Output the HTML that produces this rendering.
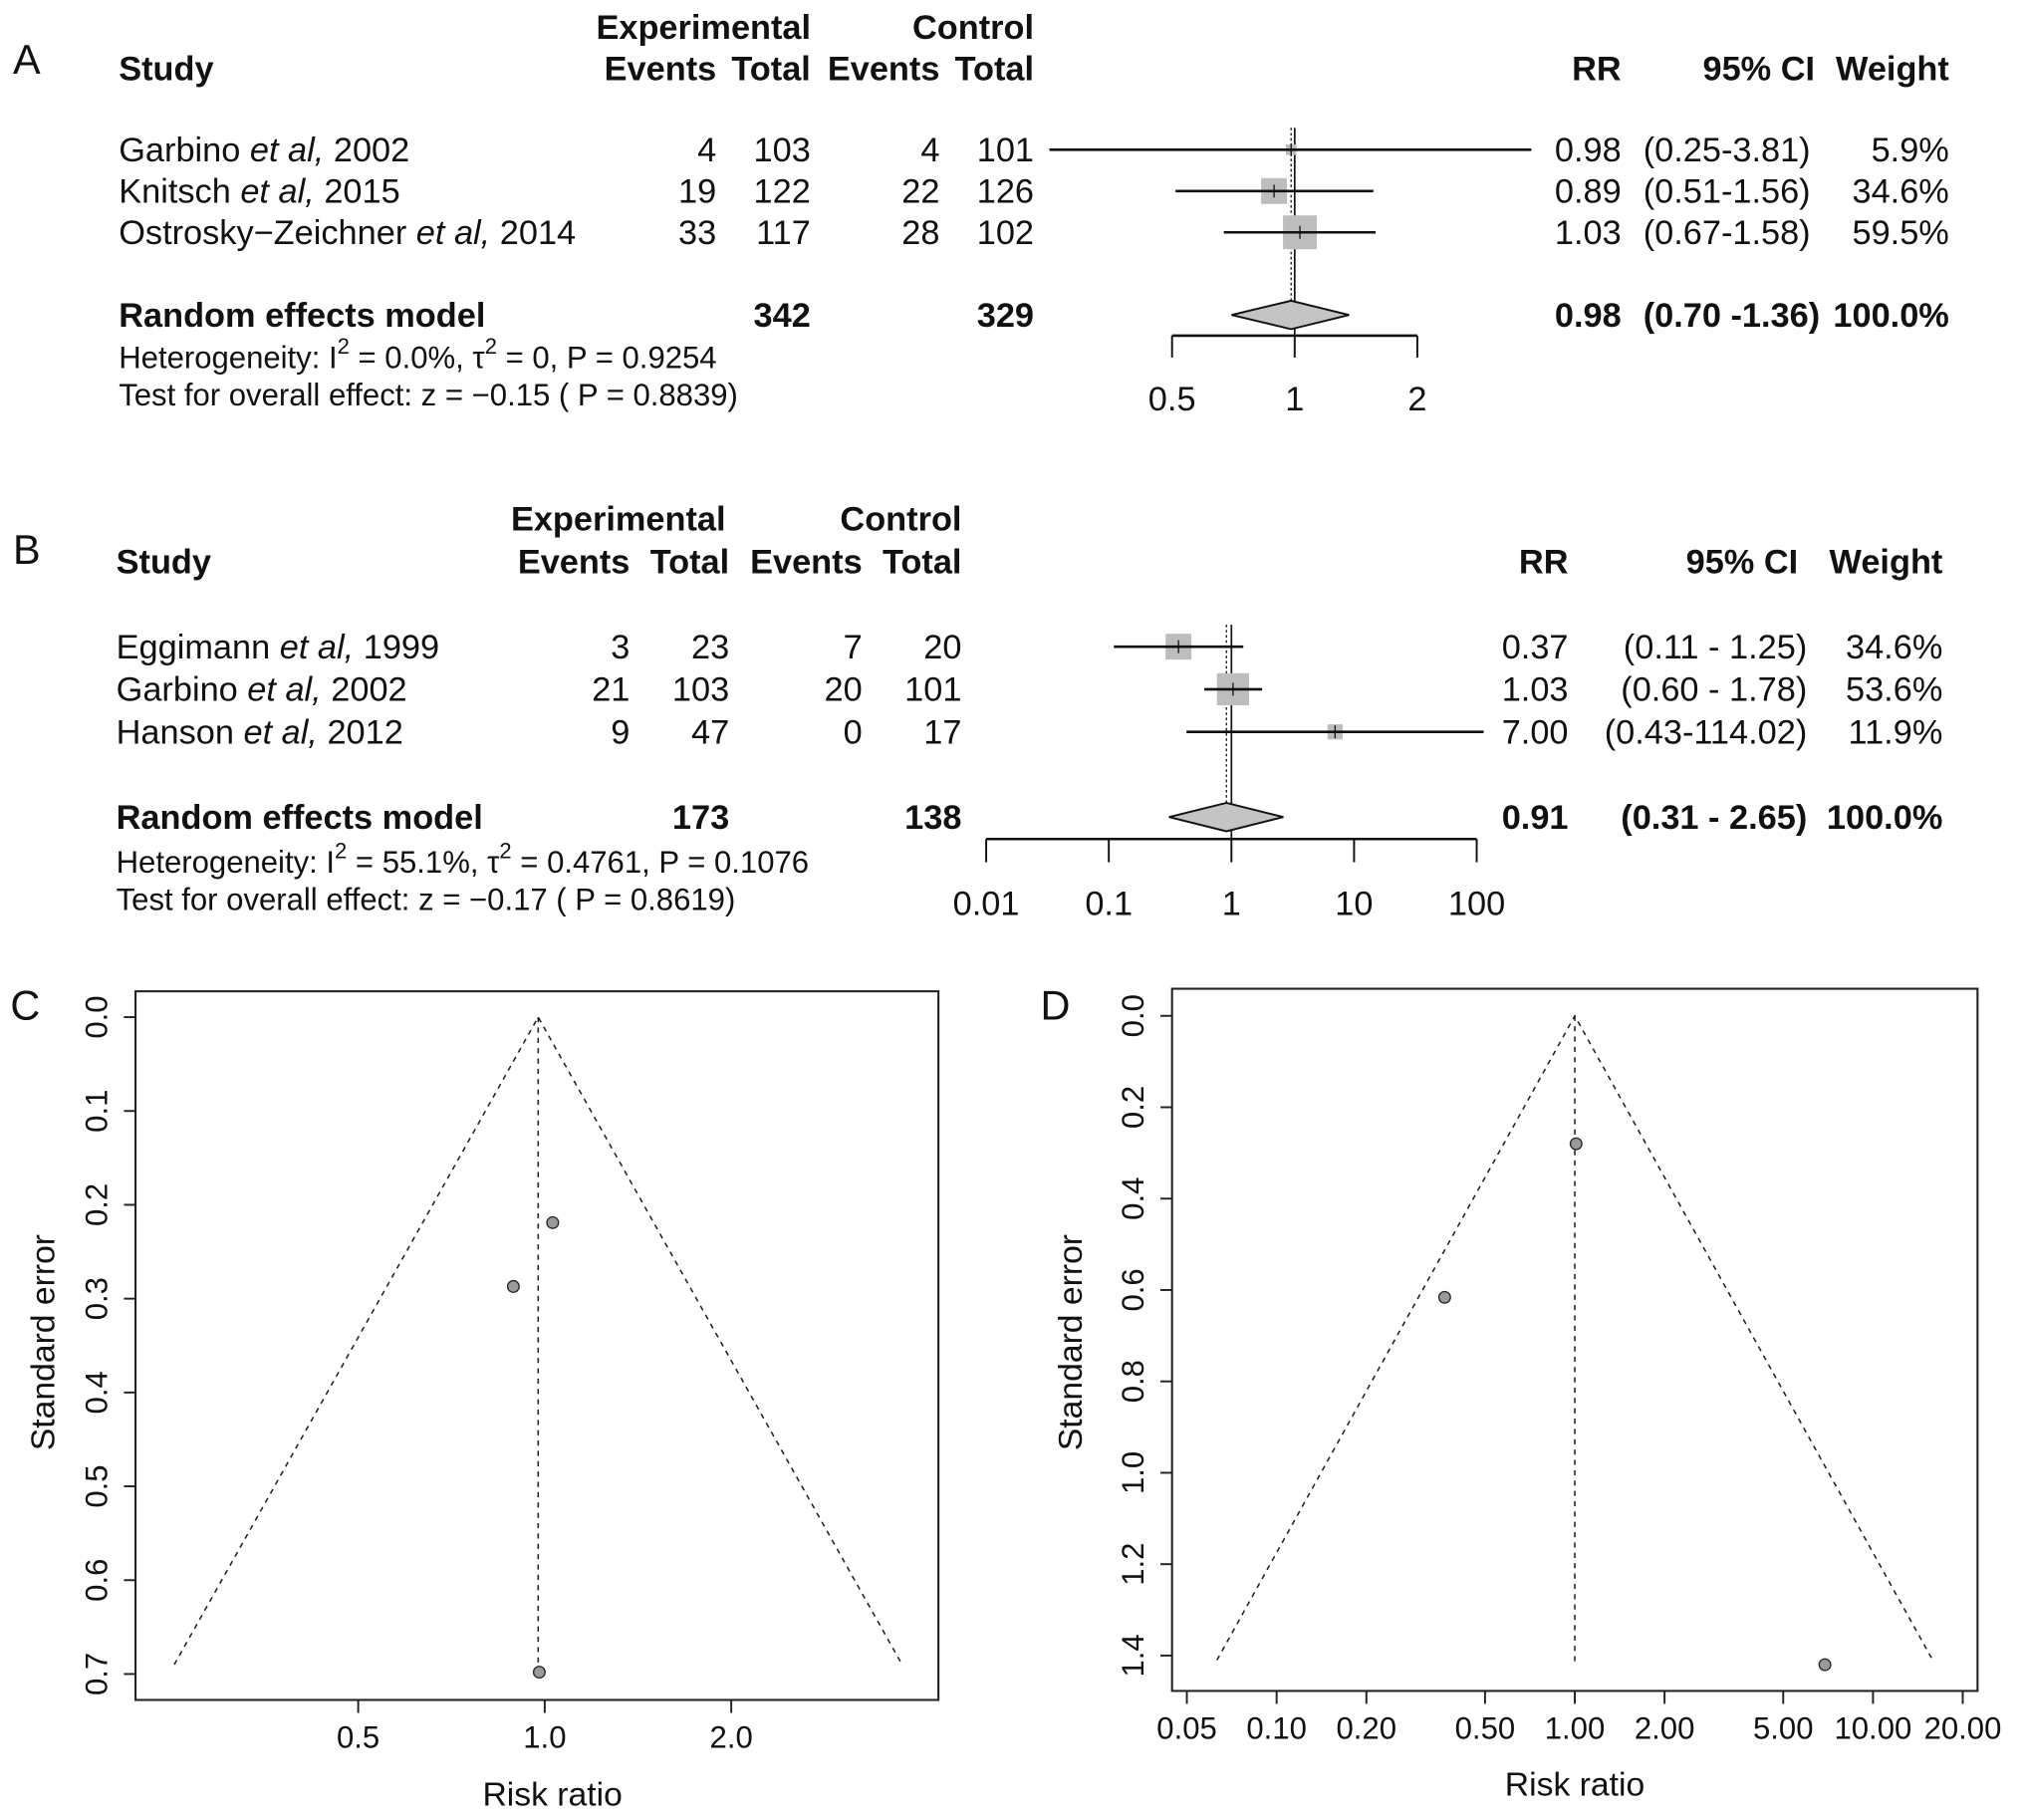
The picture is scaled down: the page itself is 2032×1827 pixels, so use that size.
<!DOCTYPE html>
<html><head><meta charset="utf-8"><style>
html,body{margin:0;padding:0;background:#fff}
svg{display:block}
text{font-family:"Liberation Sans",Arial,sans-serif;fill:#111}
</style></head><body>
<svg id="fig" width="2032" height="1827" viewBox="0 0 1568 1410" preserveAspectRatio="none" xmlns="http://www.w3.org/2000/svg">
<g id="root"></g>
</svg>
<script>
// ---------- Panel A data ----------
const studiesA = ["Garbino", "Knitsch", "Ostrosky\u2212Zeichner"];
const yearsA = ["2002", "2015", "2014"];
const expEventsA = [4, 19, 33];
const expTotalA = [103, 122, 117];
const ctlEventsA = [4, 22, 28];
const ctlTotalA = [101, 126, 102];
const rrA = [0.98, 0.89, 1.03];
const lowA = [0.25, 0.51, 0.67];
const highA = [3.81, 1.56, 1.58];
const weightA = [5.9, 34.6, 59.5];
const summaryA = [0.98, 0.70, 1.36];
const totalsA = [342, 329];
const ticksA = [0.5, 1, 2];
// ---------- Panel B data ----------
const studiesB = ["Eggimann", "Garbino", "Hanson"];
const yearsB = ["1999", "2002", "2012"];
const expEventsB = [3, 21, 9];
const expTotalB = [23, 103, 47];
const ctlEventsB = [7, 20, 0];
const ctlTotalB = [20, 101, 17];
const rrB = [0.37, 1.03, 7.00];
const lowB = [0.11, 0.60, 0.43];
const highB = [1.25, 1.78, 114.02];
const weightB = [34.6, 53.6, 11.9];
const summaryB = [0.91, 0.31, 2.65];
const totalsB = [173, 138];
const ticksB = [0.01, 0.1, 1, 10, 100];
const tickLabelsB = ["0.01", "0.1", "1", "10", "100"];
// ---------- Panel C funnel data ----------
const funnelRrC = [1.03, 0.89, 0.98];
const funnelSeC = [0.219, 0.287, 0.698];
const pooledC = 0.976;
const maxSeC = 0.69;
const yTicksC = [0.0, 0.1, 0.2, 0.3, 0.4, 0.5, 0.6, 0.7];
const xTicksC = [0.5, 1.0, 2.0];
// ---------- Panel D funnel data ----------
const funnelRrD = [1.01, 0.366, 6.9];
const funnelSeD = [0.28, 0.616, 1.42];
const pooledD = 1.0;
const maxSeD = 1.41;
const yTicksD = [0.0, 0.2, 0.4, 0.6, 0.8, 1.0, 1.2, 1.4];
const xTicksD = [0.05, 0.1, 0.2, 0.5, 1, 2, 5, 10, 20];

const NS = "http://www.w3.org/2000/svg";
const root = document.getElementById("root");
const FS = 26.5;
function mk(tag, attrs, parent) {
  const e = document.createElementNS(NS, tag);
  for (const k in attrs) e.setAttribute(k, attrs[k]);
  (parent || root).appendChild(e);
  return e;
}
function txt(x, y, s, size, anchor, weight, parent) {
  const t = mk("text", {x: x, y: y, "font-size": size, "text-anchor": anchor || "start", "font-weight": weight || "normal"}, parent);
  t.textContent = s;
  return t;
}
function studyLabel(x, y, name, year, parent) {
  const t = mk("text", {x: x, y: y, "font-size": FS}, parent);
  const a = document.createElementNS(NS, "tspan"); a.textContent = name + " "; t.appendChild(a);
  const b = document.createElementNS(NS, "tspan"); b.setAttribute("font-style", "italic"); b.textContent = "et al,"; t.appendChild(b);
  const c = document.createElementNS(NS, "tspan"); c.textContent = " " + year; t.appendChild(c);
  return t;
}
function fmt2(v) { return v.toFixed(2); }

// ================= Panel A =================
(function(){
  const g = mk("g", {});
  
  
  const x = v => 1003 + 95 * Math.log2(v);
  const lab = txt(10, 57, "A", 32, "start", "normal", g);
  
  
  txt(545, 30, "Experimental", FS, "middle", "bold", g);
  txt(801, 30, "Control", FS, "end", "bold", g);
  txt(92, 62, "Study", FS, "start", "bold", g);
  txt(555, 62, "Events", FS, "end", "bold", g);
  txt(628, 62, "Total", FS, "end", "bold", g);
  txt(728, 62, "Events", FS, "end", "bold", g);
  txt(801, 62, "Total", FS, "end", "bold", g);
  txt(1256, 62, "RR", FS, "end", "bold", g);
  txt(1406, 62, "95% CI", FS, "end", "bold", g);
  txt(1510, 62, "Weight", FS, "end", "bold", g);
  const rowY = [116, 148, 180];
  const ref = mk("line", {x1: x(1), y1: 99, x2: x(1), y2: 259, stroke: "#111", "stroke-width": 1.3}, g);
  
  
  const sl = mk("line", {x1: x(summaryA[0]), y1: 99, x2: x(summaryA[0]), y2: 233, stroke: "#111", "stroke-width": 1, "stroke-dasharray": "2,2"}, g);
  
  
  for (let i = 0; i < studiesA.length; i++) {
    const y = rowY[i];
    const row = mk("g", {}, g);
    
    
    studyLabel(92, y + 9, studiesA[i], yearsA[i], row);
    txt(555, y + 9, String(expEventsA[i]), FS, "end", "normal", row);
    txt(628, y + 9, String(expTotalA[i]), FS, "end", "normal", row);
    txt(728, y + 9, String(ctlEventsA[i]), FS, "end", "normal", row);
    txt(801, y + 9, String(ctlTotalA[i]), FS, "end", "normal", row);
    txt(1256, y + 9, fmt2(rrA[i]), FS, "end", "normal", row);
    txt(1273, y + 9, "(" + fmt2(lowA[i]) + "-" + fmt2(highA[i]) + ")", FS, "start", "normal", row);
    txt(1510, y + 9, weightA[i].toFixed(1) + "%", FS, "end", "normal", row);
    const s = 3.4 * Math.sqrt(weightA[i]);
    const box = mk("rect", {x: x(rrA[i]) - s / 2, y: y - s / 2, width: s, height: s, fill: "#bdbdbd"}, row);
    
    
    const ci = mk("line", {x1: x(lowA[i]), y1: y, x2: x(highA[i]), y2: y, stroke: "#111", "stroke-width": 2}, row);
    
    
    mk("line", {x1: x(rrA[i]), y1: y - 5, x2: x(rrA[i]), y2: y + 5, stroke: "#111", "stroke-width": 1}, row);
  }
  const yS = 244;
  txt(92, yS + 9, "Random effects model", FS, "start", "bold", g);
  txt(628, yS + 9, String(totalsA[0]), FS, "end", "bold", g);
  txt(801, yS + 9, String(totalsA[1]), FS, "end", "bold", g);
  txt(1256, yS + 9, fmt2(summaryA[0]), FS, "end", "bold", g);
  txt(1273, yS + 9, "(" + fmt2(summaryA[1]) + " -" + fmt2(summaryA[2]) + ")", FS, "start", "bold", g);
  txt(1510, yS + 9, "100.0%", FS, "end", "bold", g);
  const d = mk("polygon", {points: [x(summaryA[1]) + "," + yS, x(summaryA[0]) + "," + (yS - 11), x(summaryA[2]) + "," + yS, x(summaryA[0]) + "," + (yS + 11)].join(" "), fill: "#c4c4c4", stroke: "#111", "stroke-width": 1.5}, g);
  
  
  const ax = mk("line", {x1: x(ticksA[0]), y1: 260, x2: x(ticksA[ticksA.length - 1]), y2: 260, stroke: "#111", "stroke-width": 2}, g);
  
  
  ticksA.forEach(t => {
    mk("line", {x1: x(t), y1: 260, x2: x(t), y2: 277, stroke: "#111", "stroke-width": 1.5}, g);
    const tl = txt(x(t), 318, String(t), FS, "middle", "normal", g);
    
    
  });
  const h = mk("text", {x: 92, y: 285, "font-size": 24}, g);
  h.innerHTML = 'Heterogeneity: I<tspan dy="-11" font-size="17">2</tspan><tspan dy="11"> = 0.0%, \u03c4</tspan><tspan dy="-11" font-size="17">2</tspan><tspan dy="11"> = 0, P = 0.9254</tspan>';
  txt(92, 314, "Test for overall effect: z = \u22120.15 ( P = 0.8839)", 24, "start", "normal", g);
})();

// ================= Panel B =================
(function(){
  const g = mk("g", {});
  
  
  const x = v => 954 + 95 * Math.log10(v);
  const lab = txt(10, 437, "B", 32, "start", "normal", g);
  
  
  txt(479, 411, "Experimental", FS, "middle", "bold", g);
  txt(745, 411, "Control", FS, "end", "bold", g);
  txt(90, 444, "Study", FS, "start", "bold", g);
  txt(488, 444, "Events", FS, "end", "bold", g);
  txt(565, 444, "Total", FS, "end", "bold", g);
  txt(668, 444, "Events", FS, "end", "bold", g);
  txt(745, 444, "Total", FS, "end", "bold", g);
  txt(1215, 444, "RR", FS, "end", "bold", g);
  txt(1393, 444, "95% CI", FS, "end", "bold", g);
  txt(1505, 444, "Weight", FS, "end", "bold", g);
  const rowY = [501, 534, 567];
  const ref = mk("line", {x1: x(1), y1: 484, x2: x(1), y2: 649, stroke: "#111", "stroke-width": 1.3}, g);
  
  
  const sl = mk("line", {x1: x(summaryB[0]), y1: 484, x2: x(summaryB[0]), y2: 622, stroke: "#111", "stroke-width": 1, "stroke-dasharray": "2,2"}, g);
  
  
  const xmax = x(ticksB[ticksB.length - 1]) + 6;
  for (let i = 0; i < studiesB.length; i++) {
    const y = rowY[i];
    const row = mk("g", {}, g);
    
    
    studyLabel(90, y + 9, studiesB[i], yearsB[i], row);
    txt(488, y + 9, String(expEventsB[i]), FS, "end", "normal", row);
    txt(565, y + 9, String(expTotalB[i]), FS, "end", "normal", row);
    txt(668, y + 9, String(ctlEventsB[i]), FS, "end", "normal", row);
    txt(745, y + 9, String(ctlTotalB[i]), FS, "end", "normal", row);
    txt(1215, y + 9, fmt2(rrB[i]), FS, "end", "normal", row);
    const ciTxt = highB[i] >= 100 ? "(" + fmt2(lowB[i]) + "-" + fmt2(highB[i]) + ")" : "(" + fmt2(lowB[i]) + " - " + fmt2(highB[i]) + ")";
    txt(1400, y + 9, ciTxt, FS, "end", "normal", row);
    txt(1505, y + 9, weightB[i].toFixed(1) + "%", FS, "end", "normal", row);
    const s = 3.4 * Math.sqrt(weightB[i]);
    const box = mk("rect", {x: x(rrB[i]) - s / 2, y: y - s / 2, width: s, height: s, fill: "#bdbdbd"}, row);
    
    
    const ci = mk("line", {x1: x(lowB[i]), y1: y, x2: Math.min(x(highB[i]), xmax), y2: y, stroke: "#111", "stroke-width": 2}, row);
    
    
    mk("line", {x1: x(rrB[i]), y1: y - 5, x2: x(rrB[i]), y2: y + 5, stroke: "#111", "stroke-width": 1}, row);
  }
  const yS = 633;
  txt(90, yS + 9, "Random effects model", FS, "start", "bold", g);
  txt(565, yS + 9, String(totalsB[0]), FS, "end", "bold", g);
  txt(745, yS + 9, String(totalsB[1]), FS, "end", "bold", g);
  txt(1215, yS + 9, fmt2(summaryB[0]), FS, "end", "bold", g);
  txt(1400, yS + 9, "(" + fmt2(summaryB[1]) + " - " + fmt2(summaryB[2]) + ")", FS, "end", "bold", g);
  txt(1505, yS + 9, "100.0%", FS, "end", "bold", g);
  const d = mk("polygon", {points: [x(summaryB[1]) + "," + yS, x(summaryB[0]) + "," + (yS - 11), x(summaryB[2]) + "," + yS, x(summaryB[0]) + "," + (yS + 11)].join(" "), fill: "#c4c4c4", stroke: "#111", "stroke-width": 1.5}, g);
  
  
  const ax = mk("line", {x1: x(ticksB[0]), y1: 650, x2: x(ticksB[ticksB.length - 1]), y2: 650, stroke: "#111", "stroke-width": 2}, g);
  
  
  ticksB.forEach((t, i) => {
    mk("line", {x1: x(t), y1: 650, x2: x(t), y2: 668, stroke: "#111", "stroke-width": 1.5}, g);
    const tl = txt(x(t), 709, tickLabelsB[i], FS, "middle", "normal", g);
    
    
  });
  const h = mk("text", {x: 90, y: 676, "font-size": 24}, g);
  h.innerHTML = 'Heterogeneity: I<tspan dy="-11" font-size="17">2</tspan><tspan dy="11"> = 55.1%, \u03c4</tspan><tspan dy="-11" font-size="17">2</tspan><tspan dy="11"> = 0.4761,  P = 0.1076</tspan>';
  txt(90, 705, "Test for overall effect: z = \u22120.17 ( P = 0.8619)", 24, "start", "normal", g);
})();

// ================= Funnel plots =================
function funnel(cfg) {
  const g = mk("g", {});
  
  
  const lab = txt(cfg.labX, cfg.labY, cfg.label, 32, "start", "normal", g);
  
  
  const frame = mk("rect", {x: cfg.L, y: cfg.T, width: cfg.R - cfg.L, height: cfg.B - cfg.T, fill: "none", stroke: "#222", "stroke-width": 1.6}, g);
  
  
  const X = cfg.x, Y = cfg.y;
  const lp = Math.log(cfg.pooled);
  const lo = Math.exp(lp - 1.96 * cfg.maxSe), hi = Math.exp(lp + 1.96 * cfg.maxSe);
  const fun = mk("polyline", {points: X(lo) + "," + Y(cfg.maxSe) + " " + X(cfg.pooled) + "," + Y(0) + " " + X(hi) + "," + Y(cfg.maxSe), fill: "none", stroke: "#222", "stroke-width": 1.2, "stroke-dasharray": "4,4"}, g);
  
  
  const vl = mk("line", {x1: X(cfg.pooled), y1: Y(0), x2: X(cfg.pooled), y2: Y(cfg.maxSe) + 3, stroke: "#222", "stroke-width": 1.2, "stroke-dasharray": "4,4"}, g);
  
  
  cfg.rr.forEach((r, i) => {
    const c = mk("circle", {cx: X(r), cy: Y(cfg.se[i]), r: 4.5, fill: "#9a9a9a", stroke: "#222", "stroke-width": 1}, g);
    
    
  });
  cfg.yTicks.forEach(t => {
    mk("line", {x1: cfg.L, y1: Y(t), x2: cfg.L - 9, y2: Y(t), stroke: "#222", "stroke-width": 1.5}, g);
    const tl = mk("text", {x: 0, y: 0, "font-size": 24, "text-anchor": "middle", transform: "translate(" + (cfg.L - 22) + "," + Y(t) + ") rotate(-90)"}, g);
    tl.textContent = t.toFixed(1);
    
    
  });
  const yt = mk("text", {x: 0, y: 0, "font-size": 26, "text-anchor": "middle", transform: "translate(" + cfg.ytX + ",1040) rotate(-90)"}, g);
  yt.textContent = "Standard error";
  
  
  cfg.xTicks.forEach((t, i) => {
    mk("line", {x1: X(t), y1: cfg.B, x2: X(t), y2: cfg.B + 10, stroke: "#222", "stroke-width": 1.5}, g);
    const tl = txt(X(t), cfg.B + 37, cfg.xFmt(t), 24, "middle", "normal", g);
    
    
  });
  const xt = txt(cfg.xtX, cfg.xtY, "Risk ratio", 26, "middle", "normal", g);
  
  
}
funnel({name: "funnel-plot-c", label: "C", labX: 8, labY: 790, L: 105, R: 727, T: 768, B: 1317,
  x: v => 422 + 144.5 * Math.log2(v), y: s => 788 + 727 * s,
  pooled: pooledC, maxSe: maxSeC, rr: funnelRrC, se: funnelSeC, yTicks: yTicksC, xTicks: xTicksC,
  xFmt: t => t.toFixed(1), ytX: 42, xtX: 428, xtY: 1399});
funnel({name: "funnel-plot-d", label: "D", labX: 806, labY: 790, L: 908, R: 1532, T: 766, B: 1310,
  x: v => 1220 + 231 * Math.log10(v), y: s => 787 + 354 * s,
  pooled: pooledD, maxSe: maxSeD, rr: funnelRrD, se: funnelSeD, yTicks: yTicksD, xTicks: xTicksD,
  xFmt: t => t.toFixed(2), ytX: 838, xtX: 1220, xtY: 1391});
</script>
</body></html>
